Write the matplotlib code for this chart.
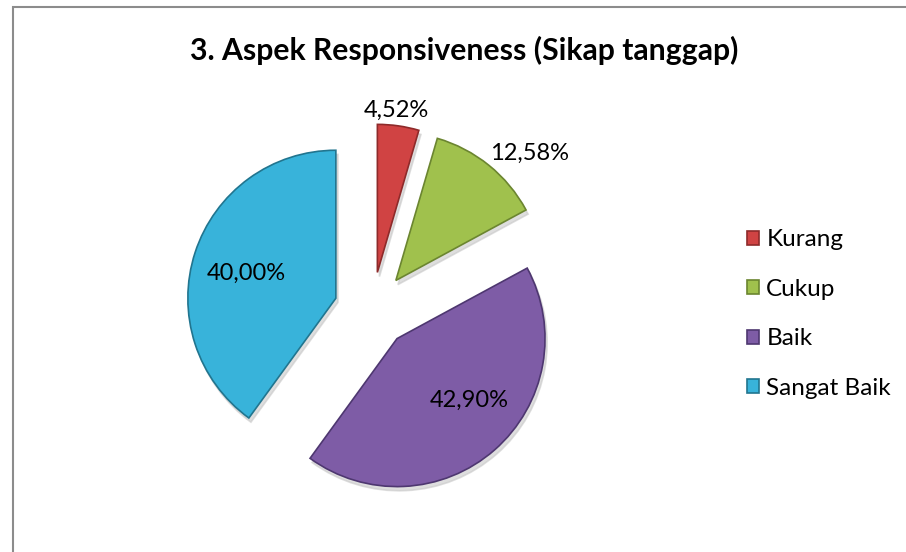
import numpy as np
import matplotlib.pyplot as plt
from matplotlib.patches import Rectangle

# data
categories = ['Kurang', 'Cukup', 'Baik', 'Sangat Baik']
percent = [4.52, 12.58, 42.90, 40.00]
pct_labels = ['4,52%', '12,58%', '42,90%', '40,00%']

colors = ['#D04343', '#A0C14D', '#7E5CA6', '#38B3DA']
edge_colors = ['#8E2A2A', '#6B8530', '#4E3770', '#21758F']

# label placement relative to each wedge (radius fraction, angle shift in deg)
label_dist = [1.10, 1.25, 0.64, 0.63]
label_shift = [1.5, -7.5, 8.0, 2.5]

plt.rcParams['font.family'] = ['Lato', 'DejaVu Sans']

fig = plt.figure(figsize=(9.06, 5.52), dpi=100)
ax = fig.add_axes([0, 0, 1, 1])

R = 148
wedges, _ = ax.pie(percent, colors=colors, radius=R, center=(372, 242),
                   explode=[38] * 4, startangle=90, counterclock=False,
                   wedgeprops=dict(linewidth=1.2),
                   shadow=dict(ox=1.5, oy=-3, color='#c8c8c8', alpha=0.6))
for w, ec in zip(wedges, edge_colors):
    w.set_edgecolor(ec)

for w, txt, d, s in zip(wedges, pct_labels, label_dist, label_shift):
    th = np.deg2rad((w.theta1 + w.theta2) / 2 + s)
    cx, cy = w.center
    ax.text(cx + d * R * np.cos(th), cy + d * R * np.sin(th), txt,
            ha='center', va='center', fontsize=17, color='black')

ax.set_xlim(0, 906)
ax.set_ylim(0, 552)
ax.set_aspect('equal')
ax.axis('off')

# chart frame
ax.add_patch(Rectangle((12.5, -10), 1000, 555.5, fill=False,
                       edgecolor='#8c8c8c', linewidth=1.5))

ax.text(464, 502, '3. Aspek Responsiveness (Sikap tanggap)', ha='center',
        va='center', fontsize=21.7, fontweight='bold')

leg = ax.legend(wedges, categories, loc='center left',
                bbox_to_anchor=(725 / 906, 238 / 552), frameon=False,
                fontsize=17.5, handlelength=0.5, handleheight=0.5,
                handletextpad=0.3, labelspacing=1.17)

fig.savefig('out.png', dpi=100)
